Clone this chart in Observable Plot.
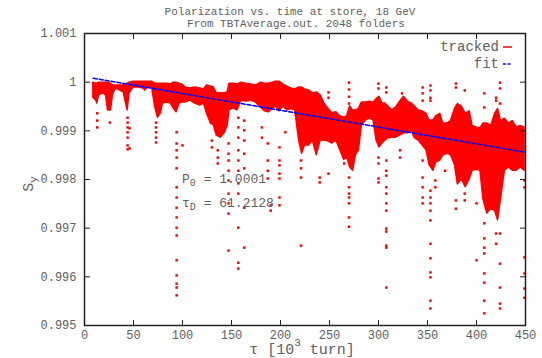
<!DOCTYPE html>
<html><head><meta charset="utf-8">
<script src="https://cdn.jsdelivr.net/npm/d3@7"></script>
<script src="https://cdn.jsdelivr.net/npm/@observablehq/plot@0.6"></script>
<style>
html,body{margin:0;padding:0;background:#fff;}
svg{display:block;}
</style></head><body><div id="chart"></div>
<script>
const title = "Polarization vs. time at store, 18 GeV";
const subtitle = "From TBTAverage.out. 2048 folders";
const legendLabels = ["tracked", "fit"];
const xTicks = [0, 50, 100, 150, 200, 250, 300, 350, 400, 450];
const yTicks = [0.995, 0.996, 0.997, 0.998, 0.999, 1.000, 1.001];
const yTickLabels = ["0.995", "0.996", "0.997", "0.998", "0.999", "1", "1.001"];

// dense band of tracked points: x (10^3 turn), lower and upper envelope of S_y
const bandX = [9,12,13,15,19,22,24,27,29,32,36,40,42,44,46,50,55,60,62,65,69,72,75,78,80,84,88,91,94,97,100,103,108,113,118,122,125,129,132,135,139,143,146,148,152,156,160,165,170,175,180,184,188,192,195,199,203,207,211,215,219,222,225,229,233,237,241,245,249,253,257,261,265,268,271,274,277,280,283,287,291,295,298,301,304,307,310,314,318,322,326,330,334,337,341,345,349,352,356,359,363,366,370,374,378,381,385,389,393,396,400,404,407,411,415,419,422,425,429,433,437,441,445,449];
const bandHi = [.99999,.99997,.99997,.99999,.99999,.99999,.99999,.99997,.99993,.99993,.99993,.99993,.99995,.99997,.99999,1.00001,1.00001,1.00001,1.00001,1.00001,1.00001,.99997,.99997,.99997,.99997,.99997,.99995,.99999,.99999,.99997,.99995,.99989,.99987,.99989,.99987,.99985,.99993,.99991,.99989,.99977,.99977,.99977,.99979,.99997,.99997,.99995,.99999,.99997,.99995,.99993,.99999,.99997,.99997,.99999,1.00001,1.00001,.99995,.99991,.99987,.99985,.99989,.99989,.99985,.99983,.99977,.99979,.99973,.99955,.99945,.99936,.99938,.99930,.99927,.99930,.99950,.99942,.99942,.99945,.99958,.99958,.99960,.99958,.99965,.99970,.99956,.99956,.99950,.99942,.99948,.99960,.99970,.99960,.99956,.99950,.99942,.99940,.99935,.99921,.99921,.99930,.99935,.99915,.99915,.99920,.99945,.99955,.99950,.99935,.99940,.99910,.99907,.99905,.99915,.99915,.99910,.99935,.99945,.99920,.99925,.99915,.99920,.99907,.99910,.99907];
const bandLo = [.99968,.99962,.99956,.99973,.99977,.99973,.99942,.99942,.99973,.99987,.99983,.99979,.99960,.99942,.99977,.99989,.99989,.99987,.99983,.99989,.99989,.99950,.99927,.99936,.99956,.99958,.99956,.99946,.99938,.99956,.99958,.99958,.99962,.99956,.99952,.99956,.99935,.99915,.99911,.99890,.99886,.99895,.99910,.99942,.99946,.99942,.99962,.99960,.99962,.99958,.99948,.99940,.99938,.99945,.99950,.99940,.99950,.99942,.99945,.99942,.99880,.99853,.99870,.99870,.99880,.99850,.99880,.99880,.99878,.99874,.99880,.99860,.99840,.99845,.99825,.99818,.99850,.99860,.99910,.99921,.99925,.99921,.99880,.99866,.99874,.99880,.99885,.99886,.99886,.99890,.99895,.99895,.99900,.99885,.99880,.99870,.99860,.99830,.99818,.99835,.99839,.99849,.99853,.99850,.99830,.99790,.99800,.99784,.99800,.99818,.99820,.99818,.99760,.99730,.99740,.99735,.99716,.99760,.99818,.99825,.99818,.99818,.99825,.99818];

// isolated low/high tracked points, grouped by x column
const spikeX = [13,26,44,46,73,94,100,130,136,147,157,163,181,187,190,199,205,221,240,249,265,270,300,308,322,324,345,353,358,368,379,388,400,408,420,424,449];
const spikeY = [
  [0.99936,0.99921,0.99907],
  [0.99917],
  [0.99927,0.99917,0.99907,0.99897,0.99886,0.99870,0.99862],
  [0.99905,0.99864],
  [0.99917,0.99907,0.99897,0.99886,0.99876],
  [0.99897,0.99874,0.99860,0.99845,0.99823,0.99784,0.99763,0.99742,0.99722,0.99701,0.99685,0.99634,0.99603,0.99586,0.99578,0.99562],
  [0.99870],
  [0.99880,0.99866],
  [0.99860,0.99845,0.99833],
  [0.99874,0.99853,0.99839,0.99818,0.99798,0.99771,0.99751,0.99730,0.99654],
  [0.99927,0.99907,0.99886,0.99860,0.99839,0.99818,0.99792,0.99771,0.99701,0.99629,0.99617],
  [0.99921,0.99901,0.99880,0.99853,0.99823,0.99742,0.99660],
  [0.99907,0.99886],
  [0.99874,0.99839,0.99818,0.99802],
  [0.99747,0.99736],
  [0.99866,0.99839,0.99829,0.99812,0.99802,0.99763,0.99747],
  [0.99897],
  [0.99839,0.99823,0.99804,0.99664],
  [0.99804,0.99794],
  [0.99979,0.99968,0.99812],
  [0.99845,0.99833],
  [0.99999,0.99985,0.99970,0.99956,0.99804,0.99784,0.99771,0.99763,0.99751,0.99722,0.99703],
  [0.99997,0.99987,0.99845,0.99833,0.99802,0.99794],
  [0.99989,0.99979,0.99839,0.99818,0.99808,0.99784,0.99771,0.99751,0.99736,0.99699,0.99693,0.99664,0.99660,0.99578],
  [0.99860,0.99845],
  [0.99977],
  [0.99989,0.99977,0.99962,0.99839,0.99804,0.99784,0.99763,0.99751],
  [0.99993,0.99983,0.99968,0.99962,0.99777,0.99763,0.99751,0.99736,0.99716,0.99668,0.99638,0.99609,0.99599,0.99551,0.99535],
  [0.99798,0.99784],
  [0.99818],
  [0.99997,0.99989,0.99757,0.99740],
  [0.99983,0.99771,0.99757],
  [0.99751,0.99634],
  [0.99977,0.99948,0.99710,0.99679,0.99660,0.99648,0.99607,0.99588,0.99551,0.99525],
  [0.99968,0.99962,0.99689,0.99668],
  [0.99999,0.99987,0.99956,0.99689,0.99627,0.99578,0.99545,0.99535],
  [0.99798,0.99784,0.99640,0.99607,0.99576,0.99557]
];

// fit line end points
const fitX = [9, 450];
const fitY = [1.00008, 0.99856];
// fit parameter annotation
const annotNames = [["P", "0"], ["τ", "D"]];
const annotValues = ["1.0001", "61.2128"];
const annotX = 100;
const annotY = [0.99802, 0.99751];

const FONT = "Liberation Mono, DejaVu Sans Mono, monospace";
const TXT = "#606060";

const bandData = bandX.map((x, i) => ({x, lo: bandLo[i], hi: bandHi[i]}));
const points = spikeX.flatMap((x, i) => spikeY[i].map(y => ({x, y})));
const fitData = fitX.map((x, i) => ({x, y: fitY[i]}));
const yLab = d => yTickLabels[yTicks.findIndex(t => Math.abs(t - d) < 1e-9)];

const chart = Plot.plot({
  width: 542, height: 358,
  marginLeft: 84, marginRight: 17, marginTop: 33, marginBottom: 33,
  style: {fontFamily: FONT, background: "#fff"},
  x: {domain: [0, 450]},
  y: {domain: [0.995, 1.001]},
  marks: [
    Plot.areaY(bandData, {x: "x", y1: "lo", y2: "hi", fill: "#ff0000", stroke: "#ff0000", strokeWidth: 1.5}),
    Plot.dot(points, {x: "x", y: "y", symbol: "square", r: 1.4, fill: "#ff0000"}),
    Plot.line(fitData, {x: "x", y: "y", stroke: "#0000ff", strokeWidth: 1.5, strokeDasharray: "4,2"}),
    Plot.frame({stroke: "#222", strokeWidth: 1.5}),
    Plot.axisX(xTicks, {anchor: "bottom", tickSize: 0, tickPadding: 5, fontSize: 12, fill: TXT, label: null}),
    Plot.axisX(xTicks, {anchor: "bottom", tickSize: -5, fill: "none", stroke: "#222", label: null}),
    Plot.axisX(xTicks, {anchor: "top", tickSize: -5, fill: "none", stroke: "#222", label: null}),
    Plot.axisY(yTicks, {anchor: "left", tickSize: 0, tickPadding: 8, fontSize: 12, fill: TXT, label: null, tickFormat: yLab}),
    Plot.axisY(yTicks, {anchor: "left", tickSize: -6, fill: "none", stroke: "#222", label: null}),
    Plot.axisY(yTicks, {anchor: "right", tickSize: -6, fill: "none", stroke: "#222", label: null})
  ]
});
document.getElementById("chart").appendChild(chart);

const sx = chart.scale("x"), sy = chart.scale("y");
const svg = d3.select(chart);
const g = svg.append("g").attr("font-family", FONT).attr("fill", TXT).attr("text-anchor", "start");

g.append("text").attr("x", 290).attr("y", 12).attr("text-anchor", "middle")
  .attr("dominant-baseline", "middle").attr("font-size", 11).text(title);
g.append("text").attr("x", 296).attr("y", 24).attr("text-anchor", "middle")
  .attr("dominant-baseline", "middle").attr("font-size", 11).text(subtitle);

// x axis label
const xl = g.append("text").attr("x", 302).attr("y", 354).attr("text-anchor", "middle").attr("font-size", 15);
xl.append("tspan").text("τ [10");
xl.append("tspan").attr("dy", -8).attr("font-size", 11).text("3");
xl.append("tspan").attr("dy", 8).text(" turn]");

// y axis label
const yl = g.append("text").attr("transform", "translate(33,184) rotate(-90)").attr("text-anchor", "middle").attr("font-size", 15);
yl.append("tspan").text("S");
yl.append("tspan").attr("dy", 4).attr("font-size", 11).text("y");

// fit annotation
annotNames.forEach((nm, i) => {
  const t = g.append("text").attr("x", sx.apply(annotX)).attr("y", sy.apply(annotY[i]) + 4.5)
    .attr("text-anchor", "start").attr("font-size", 13);
  t.append("tspan").text(nm[0]);
  t.append("tspan").attr("dy", 3).attr("font-size", 10).text(nm[1]);
  t.append("tspan").attr("dy", -3).text(" = " + annotValues[i]);
});

// legend
const legColors = ["#ff0000", "#0000ff"];
const legY = [47, 64];
legendLabels.forEach((lab, i) => {
  g.append("text").attr("x", 499).attr("y", legY[i]).attr("text-anchor", "end")
    .attr("dominant-baseline", "middle").attr("font-size", 14).text(lab);
  svg.append("line").attr("x1", 503).attr("x2", 512).attr("y1", legY[i]).attr("y2", legY[i])
    .attr("stroke", legColors[i]).attr("stroke-width", 1.5)
    .attr("stroke-dasharray", i === 1 ? "3,1.5" : null);
});
</script>
</body></html>
